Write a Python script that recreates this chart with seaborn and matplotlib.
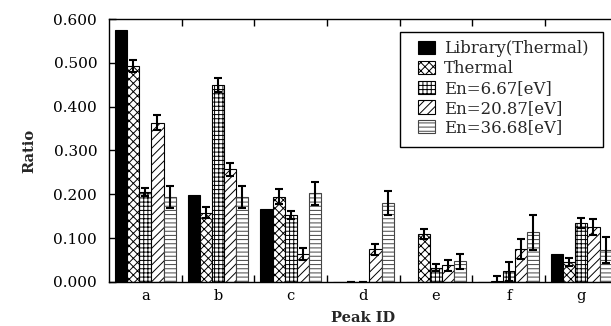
import numpy as np
import pandas as pd
import matplotlib
matplotlib.use("Agg")
import matplotlib.pyplot as plt
import seaborn as sns
from matplotlib.patches import Patch, Rectangle
from matplotlib.transforms import IdentityTransform
from matplotlib.ticker import FixedLocator, FormatStrFormatter

# Peak categories and series
peaks = ["a", "b", "c", "d", "e", "f", "g"]
series = ["Library(Thermal)", "Thermal", "En=6.67[eV]", "En=20.87[eV]", "En=36.68[eV]"]

library_vals = [0.575, 0.198, 0.166, 0.0, 0.0, 0.0, 0.063]
thermal_vals = [0.493, 0.158, 0.195, 0.0, 0.109, 0.002, 0.045]
en667_vals = [0.206, 0.449, 0.153, 0.0, 0.033, 0.024, 0.134]
en2087_vals = [0.363, 0.257, 0.064, 0.075, 0.038, 0.075, 0.125]
en3668_vals = [0.194, 0.194, 0.202, 0.180, 0.047, 0.113, 0.073]

thermal_err = [0.014, 0.013, 0.017, 0.001, 0.011, 0.012, 0.0095]
en667_err = [0.009, 0.016, 0.010, 0.001, 0.007, 0.021, 0.0115]
en2087_err = [0.017, 0.015, 0.013, 0.0125, 0.013, 0.023, 0.018]
en3668_err = [0.025, 0.025, 0.026, 0.027, 0.018, 0.039, 0.029]

values = [library_vals, thermal_vals, en667_vals, en2087_vals, en3668_vals]
errors = [None, thermal_err, en667_err, en2087_err, en3668_err]

df = pd.DataFrame({
    "Peak ID": np.tile(peaks, len(series)),
    "Series": np.repeat(series, len(peaks)),
    "Ratio": np.concatenate(values),
})

sns.set_theme(style="white")
plt.rcParams["font.family"] = ["DejaVu Serif"]
plt.rcParams["hatch.linewidth"] = 0.7

fills = ["black", "white", "white", "white", "white"]
hatches = [None, "xxxx", "++++", "////", "----"]
edges = ["black", "black", "black", "black", "#444444"]

fig = plt.figure(figsize=(6.11, 3.26), dpi=100)
ax = fig.add_axes([0.1784, 0.135, 0.8326, 0.8067])

sns.barplot(data=df, x="Peak ID", y="Ratio", hue="Series", order=peaks,
            hue_order=series, width=5 / 6, gap=0, errorbar=None,
            legend=False, ax=ax)

bar_groups = list(ax.containers)
for i, container in enumerate(bar_groups):
    xs, hs = [], []
    for patch in container.patches:
        patch.set_facecolor(fills[i])
        patch.set_edgecolor(edges[i])
        patch.set_linewidth(0.8)
        if hatches[i]:
            patch.set_hatch(hatches[i])
        xs.append(patch.get_x() + patch.get_width() / 2)
        hs.append(patch.get_height())
    if errors[i] is not None:
        ax.errorbar(xs, hs, yerr=errors[i], fmt="none", ecolor="black",
                    elinewidth=1.5, capsize=3, capthick=1.5, zorder=5)

ax.set_xlim(-0.5, len(peaks) - 0.5)
ax.set_ylim(0, 0.6)
ax.set_yticks(np.arange(0, 0.61, 0.1))
ax.yaxis.set_major_formatter(FormatStrFormatter("%.3f"))
ax.xaxis.set_minor_locator(FixedLocator(np.arange(0.5, len(peaks) - 0.5, 1)))

for side in ["top", "bottom", "left", "right"]:
    ax.spines[side].set_visible(True)
    ax.spines[side].set_color("black")
    ax.spines[side].set_linewidth(1.0)

ax.tick_params(axis="x", which="major", length=0, labelsize=10.5, pad=5, colors="black")
ax.tick_params(axis="x", which="minor", direction="in", length=5, width=1,
               top=True, bottom=True, colors="black")
ax.tick_params(axis="y", which="major", direction="in", length=5, width=1,
               left=True, labelsize=11, pad=8.5, colors="black")

ax.set_xlabel("Peak ID", fontsize=10.5, fontweight="bold", labelpad=5.5)
ax.set_ylabel("Ratio", fontsize=10.5, fontweight="bold", labelpad=12)

handles = [Patch(facecolor=fills[i], edgecolor=edges[i], hatch=hatches[i],
                 linewidth=0.8, label=series[i]) for i in range(len(series))]
leg = ax.legend(handles=handles, loc="upper right", bbox_to_anchor=(0.959, 0.9506),
                borderaxespad=0, fontsize=11.9, frameon=False,
                handlelength=1.0, handleheight=0.85,
                handletextpad=0.55, labelspacing=0.17, borderpad=0.5)

# Legend frame, a little wider than the entries on both sides
fig.canvas.draw()
bb = leg.get_window_extent()
frame = Rectangle((bb.x0 - 10, bb.y0 - 2), bb.width + 16, bb.height + 2,
                  transform=IdentityTransform(), fill=True, facecolor="white",
                  edgecolor="black", linewidth=1.0, zorder=4.9)
frame.set_clip_on(False)
ax.add_artist(frame)

fig.savefig("out.png", dpi=100, facecolor="white")
